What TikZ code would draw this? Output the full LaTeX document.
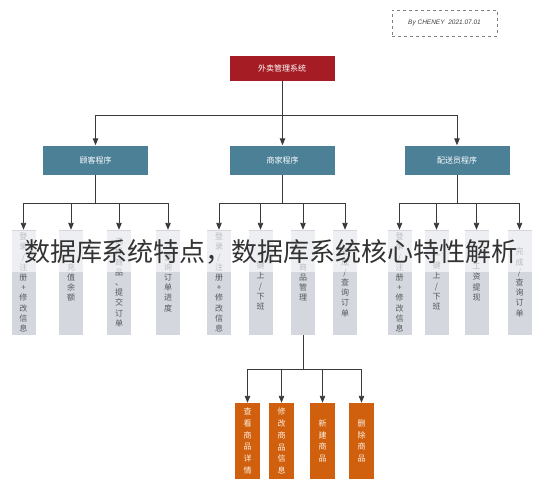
\documentclass[tikz,border=0pt]{standalone}
\usepackage{fontspec}
\usetikzlibrary{arrows.meta}
\setmainfont{Liberation Sans}
\newfontfamily\cjk{Noto Sans CJK SC}
\definecolor{rootred}{HTML}{A51C24}
\definecolor{progblue}{HTML}{4B8097}
\definecolor{leafgray}{HTML}{D5D7DF}
\definecolor{leaftext}{HTML}{55575F}
\definecolor{goodsorange}{HTML}{D0600E}
\definecolor{linegray}{HTML}{3A3A3A}
\tikzset{
  rootbox/.style={fill=rootred, text=white, minimum width=105, minimum height=25,
    font=\cjk\fontsize{8}{9}\selectfont, inner sep=0pt},
  progbox/.style={fill=progblue, text=white, minimum width=105, minimum height=29,
    font=\cjk\fontsize{8}{9}\selectfont, inner sep=0pt},
  leafbox/.style={fill=leafgray, text=leaftext, minimum width=24, minimum height=105,
    align=center, font=\cjk\fontsize{8}{10.2}\selectfont, inner sep=0pt},
  goodsbox/.style={fill=goodsorange, text=white!90!orange, minimum width=25, minimum height=76,
    align=center, font=\cjk\fontsize{8}{11.8}\selectfont, inner sep=0pt},
  link/.style={draw=linegray, line width=0.9pt},
  arrowlink/.style={link, -{Triangle[length=7pt, width=5.5pt]}}
}
\begin{document}
\begin{tikzpicture}[x=1pt, y=-1pt]
  \useasboundingbox (0,0) rectangle (542,490);

  % signature
  \node (sign) at (444.5,23) [draw=gray, dashed, minimum width=105, minimum height=26,
    font=\itshape\fontsize{6.5}{7}\selectfont, text=black!75] {By CHENEY\ \ 2021.07.01};

  % top
  \node (root) at (282,68.5) [rootbox] {外卖管理系统};
  \node (cust) at (95.5,160) [progbox] {顾客程序};
  \node (shop) at (282.5,160) [progbox] {商家程序};
  \node (rider) at (457,160) [progbox] {配送员程序};

  \coordinate (bus) at (282,115);
  \draw [link] (root) -- (bus);
  \draw [arrowlink] (bus) -| (cust.north);
  \draw [arrowlink] (bus) -| (shop.north);
  \draw [arrowlink] (bus) -| (rider.north);

  % customer
  \node (c1) at (23.5,282.5) [leafbox] {登\\录\\/\\注\\册\\+\\修\\改\\信\\息};
  \node (c2) at (71,282.5) [leafbox] {充\\值\\余\\额};
  \node (c3) at (119,282.5) [leafbox] {选\\择\\商\\品\\、\\提\\交\\订\\单};
  \node (c4) at (168,282.5) [leafbox] {查\\询\\订\\单\\进\\度};
  \coordinate (cbus) at (95.5,203);
  \draw [link] (cust) -- (cbus);
  \draw [arrowlink] (cbus) -| (c1.north);
  \draw [arrowlink] (cbus) -| (c2.north);
  \draw [arrowlink] (cbus) -| (c3.north);
  \draw [arrowlink] (cbus) -| (c4.north);

  % shop
  \node (s1) at (219,282.5) [leafbox] {登\\录\\/\\注\\册\\+\\修\\改\\信\\息};
  \node (s2) at (260.5,282.5) [leafbox] {一\\键\\上\\/\\下\\班};
  \node (s3) at (303,282.5) [leafbox] {商\\品\\管\\理};
  \node (s4) at (345,282.5) [leafbox] {完\\成\\/\\查\\询\\订\\单};
  \coordinate (sbus) at (282.5,203);
  \draw [link] (shop) -- (sbus);
  \draw [arrowlink] (sbus) -| (s1.north);
  \draw [arrowlink] (sbus) -| (s2.north);
  \draw [arrowlink] (sbus) -| (s3.north);
  \draw [arrowlink] (sbus) -| (s4.north);

  % rider
  \node (r1) at (399.5,282.5) [leafbox] {登\\录\\/\\注\\册\\+\\修\\改\\信\\息};
  \node (r2) at (436.5,282.5) [leafbox] {一\\键\\上\\/\\下\\班};
  \node (r3) at (476.5,282.5) [leafbox] {工\\资\\提\\现};
  \node (r4) at (519.5,282.5) [leafbox] {完\\成\\/\\查\\询\\订\\单};
  \coordinate (rbus) at (457,203);
  \draw [link] (rider) -- (rbus);
  \draw [arrowlink] (rbus) -| (r1.north);
  \draw [arrowlink] (rbus) -| (r2.north);
  \draw [arrowlink] (rbus) -| (r3.north);
  \draw [arrowlink] (rbus) -| (r4.north);

  % goods
  \node (g1) at (247.5,441) [goodsbox] {查\\看\\商\\品\\详\\情};
  \node (g2) at (281.5,441) [goodsbox] {修\\改\\商\\品\\信\\息};
  \node (g3) at (322.5,441) [goodsbox] {新\\建\\商\\品};
  \node (g4) at (361.5,441) [goodsbox] {删\\除\\商\\品};
  \coordinate (gbus) at (303,369);
  \draw [link] (s3) -- (gbus);
  \draw [arrowlink] (gbus) -| (g1.north);
  \draw [arrowlink] (gbus) -| (g2.north);
  \draw [arrowlink] (gbus) -| (g3.north);
  \draw [arrowlink] (gbus) -| (g4.north);

  % overlay title
  \fill [white, opacity=0.6] (0,231) rectangle (542,272);
  \node (title) at (271,252) [font=\cjk\fontsize{26}{28}\selectfont, text=black!80, inner sep=0pt]
    {数据库系统特点，数据库系统核心特性解析};
\end{tikzpicture}
\end{document}
